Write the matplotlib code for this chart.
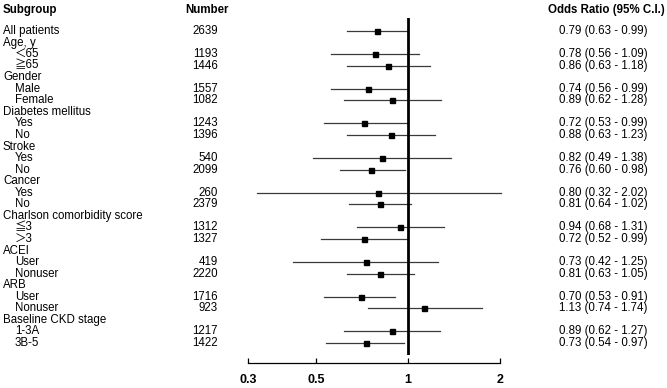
import matplotlib
matplotlib.use('Agg')
import matplotlib.pyplot as plt
import matplotlib.transforms as mtransforms
import numpy as np

plt.rcParams['font.family'] = ['Liberation Sans', 'Noto Sans CJK JP', 'DejaVu Sans']

# rows: (label, is_header)
labels = ['All patients', 'Age, y', '＜65', '≧65', 'Gender', 'Male', 'Female',
          'Diabetes mellitus', 'Yes', 'No', 'Stroke', 'Yes', 'No', 'Cancer', 'Yes', 'No',
          'Charlson comorbidity score', '≦3', '＞3', 'ACEI', 'User', 'Nonuser',
          'ARB', 'User', 'Nonuser', 'Baseline CKD stage', '1-3A', '3B-5']
indent = [0, 0, 1, 1, 0, 1, 1, 0, 1, 1, 0, 1, 1, 0, 1, 1, 0, 1, 1, 0, 1, 1, 0, 1, 1, 0, 1, 1]
numbers = [2639, None, 1193, 1446, None, 1557, 1082, None, 1243, 1396, None, 540, 2099,
           None, 260, 2379, None, 1312, 1327, None, 419, 2220, None, 1716, 923, None, 1217, 1422]
odds = [0.79, None, 0.78, 0.86, None, 0.74, 0.89, None, 0.72, 0.88, None, 0.82, 0.76,
        None, 0.80, 0.81, None, 0.94, 0.72, None, 0.73, 0.81, None, 0.70, 1.13, None, 0.89, 0.73]
ci_low = [0.63, None, 0.56, 0.63, None, 0.56, 0.62, None, 0.53, 0.63, None, 0.49, 0.60,
          None, 0.32, 0.64, None, 0.68, 0.52, None, 0.42, 0.63, None, 0.53, 0.74, None, 0.62, 0.54]
ci_high = [0.99, None, 1.09, 1.18, None, 0.99, 1.28, None, 0.99, 1.23, None, 1.38, 0.98,
           None, 2.02, 1.02, None, 1.31, 0.99, None, 1.25, 1.05, None, 0.91, 1.74, None, 1.27, 0.97]
xticks = [0.3, 0.5, 1, 2]

W, H = 667, 388
fig = plt.figure(figsize=(W / 100, H / 100), dpi=100)
top_px, bot_px = 18, 355
ax = fig.add_axes([248 / W, (H - bot_px) / H, (500 - 248) / W, (bot_px - top_px) / H])
ax.set_xscale('log')
ax.set_xlim(0.3, 2)
row_px = 11.556
ax.set_ylim(27 + (bot_px - 343) / row_px, -(31 - top_px) / row_px)

for i in range(len(labels)):
    if odds[i] is None:
        continue
    ax.plot([ci_low[i], ci_high[i]], [i, i], color='#3a3a3a', lw=0.9, clip_on=False)
    ax.plot(odds[i], i, marker='s', color='black', markersize=3.6, clip_on=False, zorder=3)

ax.axvline(1, color='black', lw=2)

for s in ['top', 'right', 'left']:
    ax.spines[s].set_visible(False)
ax.spines['bottom'].set_position(('outward', 6))
ax.spines['bottom'].set_bounds(0.3, 2)
ax.spines['bottom'].set_linewidth(0.9)
ax.set_yticks([])
ax.set_xticks(xticks)
ax.set_xticklabels([str(t) for t in xticks], fontweight='bold', fontsize=9)
ax.minorticks_off()
ax.tick_params(axis='x', direction='in', length=3.6, width=0.9, pad=7.5)

tr = mtransforms.blended_transform_factory(fig.transFigure, ax.transData)
head_y = (9.5 - 31) / row_px
fs = 8.3
ax.text(3 / W, head_y, 'Subgroup', transform=tr, fontsize=fs, fontweight='bold', va='center')
ax.text(185 / W, head_y, 'Number', transform=tr, fontsize=fs, fontweight='bold', va='center')
ax.text(548 / W, head_y, 'Odds Ratio (95% C.I.)', transform=tr, fontsize=fs, fontweight='bold', va='center')

for i, lab in enumerate(labels):
    x = 15 if indent[i] else 3
    ax.text(x / W, i, lab, transform=tr, fontsize=fs, va='center')
    if numbers[i] is not None:
        ax.text(218 / W, i, str(numbers[i]), transform=tr, fontsize=fs, va='center', ha='right')
    if odds[i] is not None:
        s = '%.2f (%.2f - %.2f)' % (odds[i], ci_low[i], ci_high[i])
        ax.text(559 / W, i, s, transform=tr, fontsize=fs, va='center')

fig.savefig('out.png', dpi=100)
